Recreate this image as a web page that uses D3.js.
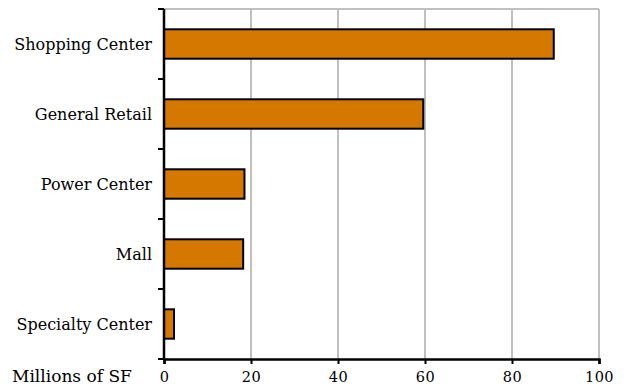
<!DOCTYPE html>
<html>
<head>
<meta charset="utf-8">
<script src="https://cdn.jsdelivr.net/npm/d3@7"></script>
<style>
  html, body { margin: 0; padding: 0; background: #fff; overflow: hidden; }
  svg { display: block; }
  text { font-family: "DejaVu Serif", serif; fill: #000; }
</style>
</head>
<body>
<svg width="634" height="390"></svg>
<script>
const categories = ['Shopping Center', 'General Retail', 'Power Center', 'Mall', 'Specialty Center'];
const values = [89.6, 59.6, 18.5, 18.2, 2.3];
const xTicks = [0, 20, 40, 60, 80, 100];
const xAxisLabel = 'Millions of SF';

const svg = d3.select('svg');
const margin = { top: 9, right: 35, bottom: 31, left: 164 };
const width = +svg.attr('width');
const height = +svg.attr('height');
const innerWidth = width - margin.left - margin.right;
const innerHeight = height - margin.top - margin.bottom;

const data = categories.map((c, i) => ({ name: c, value: values[i] }));

const xScale = d3.scaleLinear().domain([0, 100]).range([0, innerWidth]);
const yScale = d3.scaleBand().domain(categories).range([0, innerHeight]).paddingInner(0.58).paddingOuter(0.29);

const g = svg.append('g').attr('transform', `translate(${margin.left},${margin.top})`);

// grid lines
g.selectAll('.grid')
  .data(xTicks.slice(1))
  .enter().append('line')
  .attr('x1', d => xScale(d)).attr('x2', d => xScale(d))
  .attr('y1', 0).attr('y2', innerHeight)
  .attr('stroke', '#c0c0c0').attr('stroke-width', 2);

// top border
g.append('line')
  .attr('x1', 0).attr('x2', innerWidth)
  .attr('y1', 0).attr('y2', 0)
  .attr('stroke', '#c0c0c0').attr('stroke-width', 2);

// bars
g.selectAll('rect')
  .data(data)
  .enter().append('rect')
  .attr('x', 0)
  .attr('y', d => yScale(d.name))
  .attr('width', d => xScale(d.value))
  .attr('height', yScale.bandwidth())
  .attr('fill', '#d47800')
  .attr('stroke', '#000')
  .attr('stroke-width', 2);

// x axis
const xAxisG = g.append('g')
  .attr('transform', `translate(0,${innerHeight})`)
  .call(d3.axisBottom(xScale).tickValues(xTicks).tickSize(5).tickPadding(9));
xAxisG.select('.domain').attr('stroke-width', 2.5);
xAxisG.selectAll('.tick line').attr('stroke-width', 2);
xAxisG.selectAll('.tick text')
  .attr('dy', null)
  .attr('y', 23)
  .style('font-size', '14.5px')
  .style('letter-spacing', '0.5px')
  .style('font-family', '"DejaVu Serif", serif');

g.append('text')
  .text(xAxisLabel)
  .attr('x', -152)
  .attr('y', innerHeight + 23)
  .style('font-size', '17px');

// y axis: ticks at category boundaries
const bounds = d3.range(categories.length + 1).map(i => i * innerHeight / categories.length);
g.append('line')
  .attr('x1', 0).attr('x2', 0).attr('y1', 0).attr('y2', innerHeight + 1)
  .attr('stroke', '#000').attr('stroke-width', 2.5);
g.selectAll('.ytick')
  .data(bounds)
  .enter().append('line')
  .attr('x1', -6).attr('x2', 0)
  .attr('y1', d => d).attr('y2', d => d)
  .attr('stroke', '#000').attr('stroke-width', 2);

g.selectAll('.ylabel')
  .data(categories)
  .enter().append('text')
  .attr('x', -12)
  .attr('y', d => yScale(d) + yScale.bandwidth() / 2)
  .attr('dy', '0.35em')
  .attr('text-anchor', 'end')
  .style('font-size', '16px')
  .text(d => d);
</script>
</body>
</html>
